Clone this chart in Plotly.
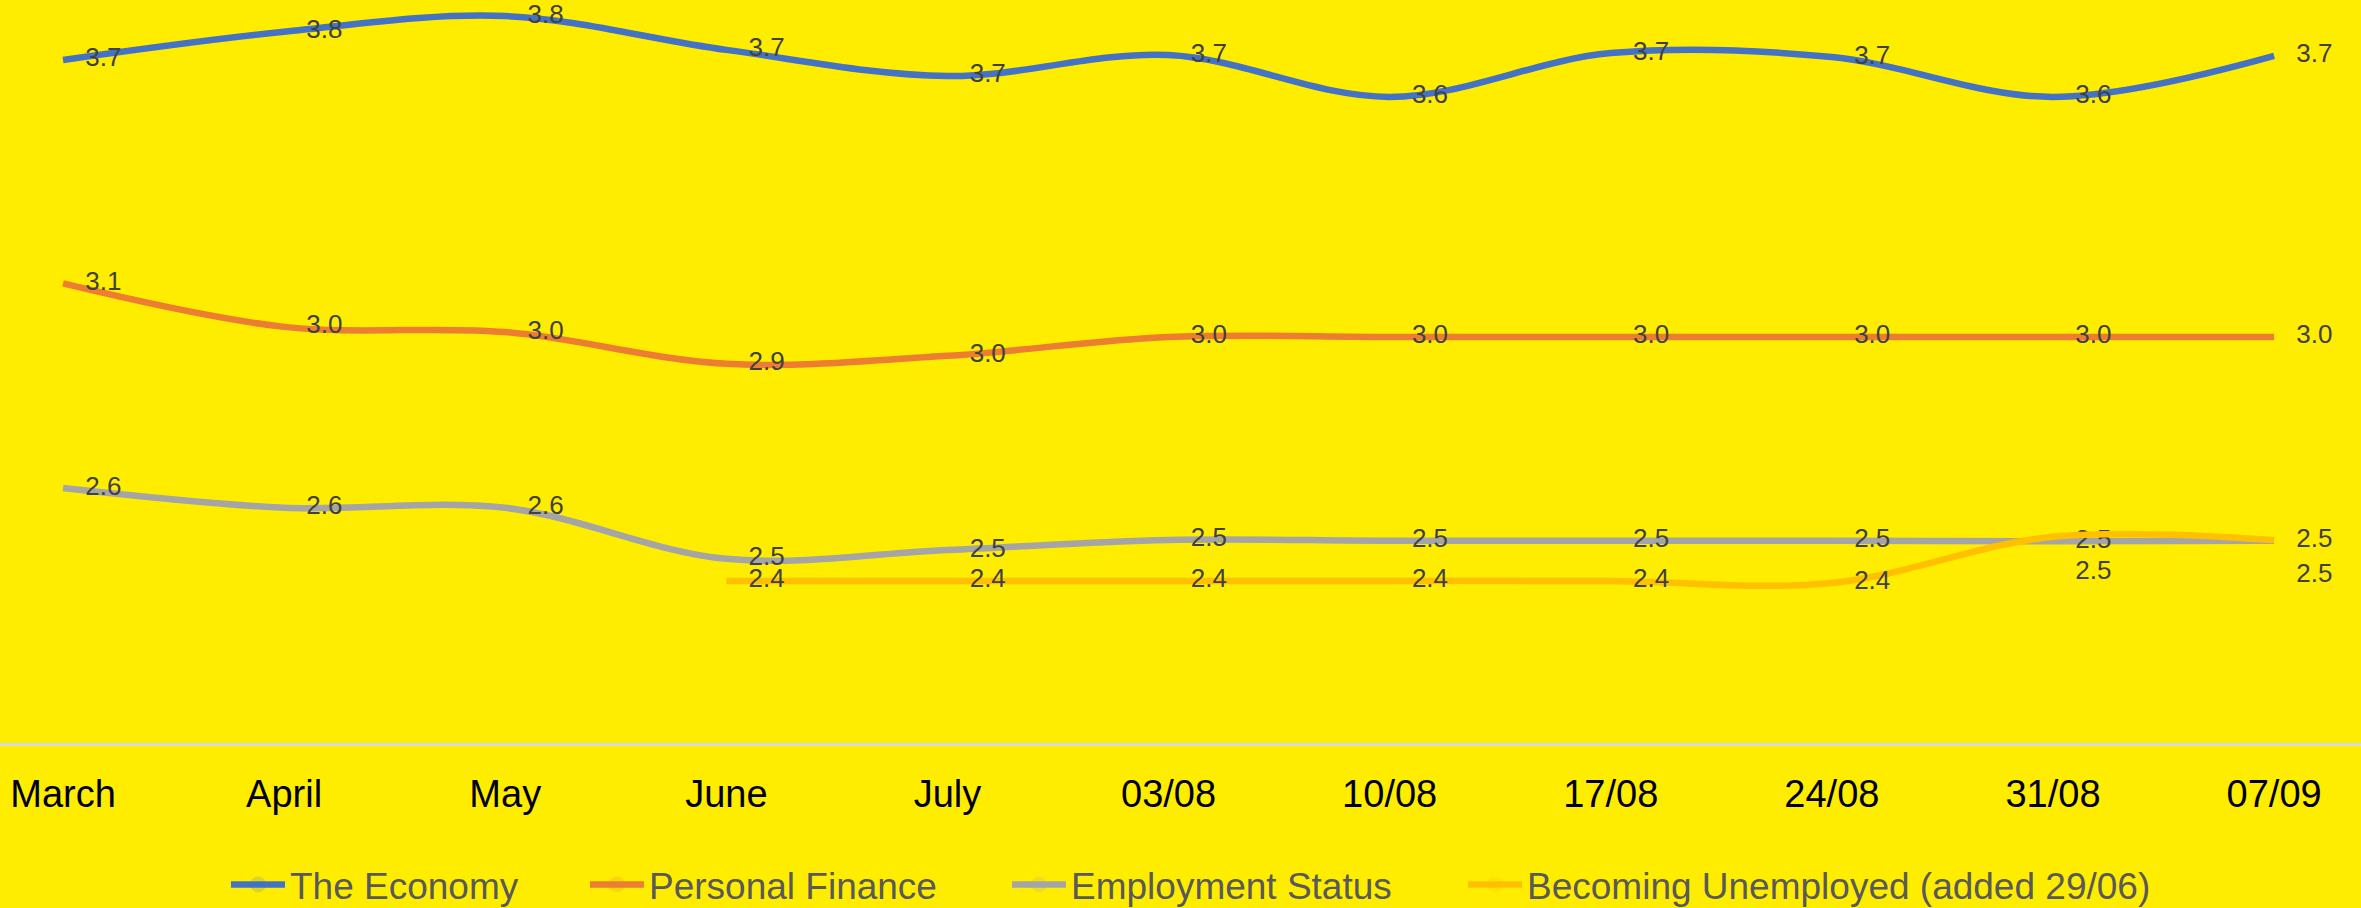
import plotly.graph_objects as go

categories = ["March", "April", "May", "June", "July", "03/08", "10/08", "17/08", "24/08", "31/08", "07/09"]

economy = [3.699, 3.769, 3.808, 3.724, 3.659, 3.711, 3.607, 3.716, 3.706, 3.607, 3.709]
personal_finance = [3.143, 3.035, 3.022, 2.943, 2.963, 3.010, 3.010, 3.010, 3.010, 3.010, 3.010]
employment_status = [2.634, 2.585, 2.585, 2.458, 2.480, 2.505, 2.503, 2.503, 2.503, 2.502, 2.503]
becoming_unemployed = [None, None, None, 2.403, 2.403, 2.403, 2.403, 2.403, 2.398, 2.513, 2.505]

series_names = ["The Economy", "Personal Finance", "Employment Status", "Becoming Unemployed (added 29/06)"]
series_values = [economy, personal_finance, employment_status, becoming_unemployed]
series_colors = ["#4472C4", "#ED7D31", "#A5A5A5", "#FFC000"]

FONT = "Arial, Liberation Sans, sans-serif"
W, H = 2361, 908
legend_ids = ["legend", "legend2", "legend3", "legend4"]
legend_text_px = [291, 650, 1072, 1528]  # where each legend label starts
ITEMW = 54

fig = go.Figure()
for name, vals, col, lid in zip(series_names, series_values, series_colors, legend_ids):
    if name.startswith("Becoming"):
        tpos = ["middle right"] * 9 + ["bottom right"] * 2
    else:
        tpos = "middle right"
    fig.add_trace(go.Scatter(
        x=categories, y=vals, name=name, legend=lid,
        mode="lines+markers+text",
        line=dict(color=col, width=6.5, shape="spline", smoothing=1.0),
        marker=dict(size=34, opacity=0, color=col),
        texttemplate="%{y:.1f}",
        textposition=tpos,
        textfont=dict(family=FONT, size=26, color="#404040"),
        cliponaxis=False,
        hoverinfo="x+y+name",
    ))

legend_common = dict(orientation="h", xanchor="left", yanchor="middle", y=-0.191,
                     font=dict(family=FONT, size=37, color="#595959"),
                     bgcolor="rgba(0,0,0,0)", borderwidth=0, itemwidth=ITEMW)
layout_legends = {}
for lid, tx in zip(legend_ids, legend_text_px):
    layout_legends[lid] = dict(legend_common, x=(tx - 41 - (ITEMW - 30)) / W)

fig.update_layout(
    width=W, height=H,
    paper_bgcolor="#FFED00", plot_bgcolor="#FFED00",
    margin=dict(l=0, r=0, t=0, b=165, autoexpand=False),
    showlegend=True,
    xaxis=dict(type="category", range=[-0.285, 10.393], showgrid=False, zeroline=False,
               showline=True, linecolor="#D9D9D9", linewidth=3,
               ticks="", ticklabelstandoff=15,
               tickfont=dict(family=FONT, size=38, color="#000000")),
    yaxis=dict(range=[2.0, 3.848], showgrid=False, zeroline=False, showline=False,
               showticklabels=False, ticks=""),
    **layout_legends,
)

fig.write_html("out.html", config={"displayModeBar": False},
               post_script="document.body.style.margin='0';document.body.style.overflow='hidden';")
